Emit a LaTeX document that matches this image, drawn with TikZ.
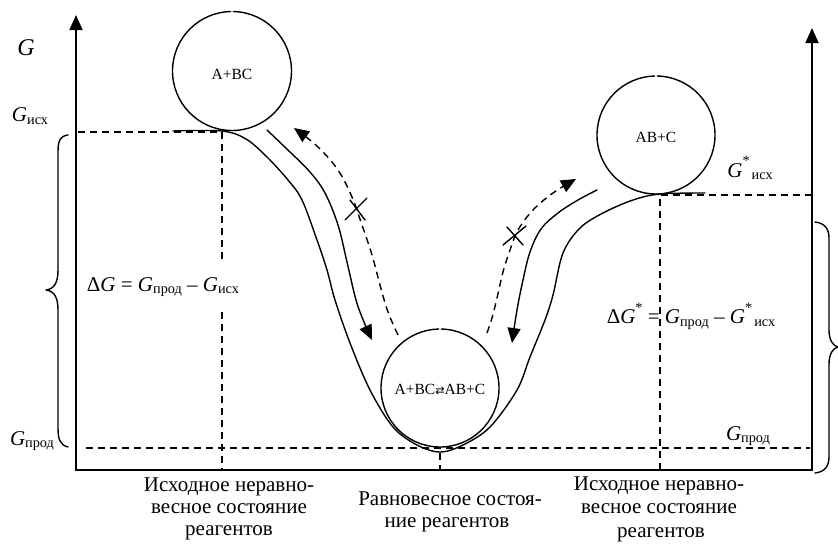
\documentclass[tikz,border=0pt]{standalone}
\usepackage{fontspec}
\setmainfont{Liberation Serif}
\newfontfamily\arrfont{DejaVu Sans}
\usetikzlibrary{arrows.meta,calc}

% lowered subscript and raised superscript set in text mode
\newcommand\lowsub[1]{\raisebox{-0.12em}{\scalebox{0.68}{#1}}}
\newcommand\hisup[1]{\raisebox{0.55em}{\scalebox{0.68}{#1}}}
\newcommand\eqarrow{{\arrfont\scalebox{0.72}{⇄}}}

\begin{document}
\begin{tikzpicture}[x=1pt,y=-1pt,
  curve/.style={line width=1.4pt, line cap=round, line join=round},
  guide/.style={line width=1.4pt, dash pattern=on 7pt off 5pt},
  axisline/.style={line width=1.8pt, line join=miter},
  tipend/.style={-{Triangle[length=15pt,width=13pt]}},
  big/.style={font=\fontsize{21}{23}\selectfont, inner sep=0pt},
  small/.style={font=\fontsize{15.5}{18}\selectfont, inner sep=0pt},
  ]
\useasboundingbox (0,0) rectangle (838,544);

% axes
\coordinate (Ytop) at (76,15);
\coordinate (O) at (76,470);
\coordinate (Xend) at (812,470);
\coordinate (Y2top) at (812,28);
\draw[axisline, {Triangle[length=15pt,width=13pt]}-{Triangle[length=15pt,width=13pt]}]
  (Ytop) -- (O) -- (Xend) -- (Y2top);

% level guides
\coordinate (Gi0) at (78,132);
\coordinate (Gi1) at (222,132);
\coordinate (Gi2) at (222,470);
\coordinate (Gs0) at (660,195);
\coordinate (Gs1) at (812,195);
\coordinate (Gs2) at (660,470);
\coordinate (Gp0) at (86,448);
\coordinate (Gp1) at (810,448);
\coordinate (Eq0) at (440,453);
\coordinate (Eq1) at (440,470);
\draw[guide] (Gi0) -- (Gi1) -- (Gi2);
\draw[guide] (Gs1) -- (Gs0) -- (Gs2);
\draw[guide] (Gp0) -- (Gp1);
\draw[guide] (Eq0) -- (Eq1);

% energy profile
\draw[curve] plot[smooth, tension=0.55] coordinates {
  (173,131) (222,131) (246,139) (267,157) (288,180) (302,200) (317,240)
  (327,270) (335,300) (350,343) (370,390) (393,427) (417,445) (440,452)
  (463,445) (490,427) (517,390) (530,357) (545,320) (553,295) (563,253)
  (580,228) (603,213) (633,200) (660,194) (705,193)};

% states
\coordinate (cA) at (232,71);
\coordinate (cB) at (656,135);
\coordinate (cE) at (440,388);
\draw[curve] (cA) ++(271.3:59.5) arc[start angle=271.3, end angle=628.7, radius=59.5];
\draw[curve] (cB) ++(271.3:59) arc[start angle=271.3, end angle=628.7, radius=59];
\draw[curve] (cE) ++(271.3:59) arc[start angle=271.3, end angle=628.7, radius=59];
\node[small] (tA) at ($(cA)+(0,3)$) {A+BC};
\node[small] (tB) at ($(cB)+(0,2)$) {AB+C};
\node[small] (tE) at ($(cE)+(0,2)$) {A+BC\eqarrow AB+C};

% spontaneous paths
\draw[curve, tipend] plot[smooth, tension=0.6] coordinates {
  (267,130) (290,152) (310,172) (325,193) (338,225) (347,262) (356,300) (364,322) (372,340)};
\draw[curve, tipend] plot[smooth, tension=0.6] coordinates {
  (597,190) (578,200) (558,213) (541,229) (530,252) (523,280) (517,310) (512,343)};

% forbidden reverse paths
\draw[guide, tipend] plot[smooth, tension=0.6] coordinates {
  (398,335) (388,312) (380,285) (372,255) (362,225) (352,197) (338,170) (318,147) (294,128)};
\draw[guide, tipend] plot[smooth, tension=0.6] coordinates {
  (487,333) (492,318) (497,298) (503,272) (510,250) (518,230) (533,210) (553,193) (576,179)};
\draw[curve] (345,220) -- (367,198) (350,200) -- (365,220);
\draw[curve] (503,245) -- (526,226) (507,227) -- (523,245);

% braces
\draw[curve] (68,135) .. controls (60,136) and (58,141) .. (58,152) -- (58,270)
  .. controls (58,283) and (54,289) .. (46,290) .. controls (54,291) and (58,297) .. (58,310)
  -- (58,428) .. controls (58,439) and (60,445) .. (68,447);
\draw[curve] (815,222) .. controls (824,223) and (829,228) .. (829,238) -- (829,330)
  .. controls (829,340) and (833,346) .. (838,347) .. controls (833,348) and (829,354) .. (829,364)
  -- (829,457) .. controls (829,467) and (824,472) .. (815,473);

% axis and level labels
\node[big, font=\fontsize{24}{26}\selectfont] (lG) at (26,48) {\textit{G}};
\node[big] (lGi) at (30,116) {\textit{G}\lowsub{исх}};
\node[big] (lGpl) at (32,441) {\textit{G}\lowsub{прод}};
\node[big] (lGpr) at (748,436) {\textit{G}\lowsub{прод}};
\node[big] (lGs) at (750,168) {\textit{G}\hisup{*}\hspace{0.1em}\lowsub{исх}};

% free energy change
\node[big, fill=white, inner xsep=0pt, inner ysep=14pt] (dG) at (163,287)
  {Δ\textit{G} = \textit{G}\lowsub{прод} – \textit{G}\lowsub{исх}};
\node[big] (dGs) at (691,316)
  {Δ\textit{G}\hisup{*} = \textit{G}\lowsub{прод} – \textit{G}\hisup{*}\hspace{0.1em}\lowsub{исх}};

% state captions
\node[big, anchor=base] (s1a) at (229,491) {Исходное неравно-};
\node[big, anchor=base] (s1b) at (229,513) {весное состояние};
\node[big, anchor=base] (s1c) at (229,535) {реагентов};
\node[big, anchor=base] (s2a) at (450,505) {Равновесное состоя-};
\node[big, anchor=base] (s2b) at (447,527) {ние реагентов};
\node[big, anchor=base] (s3a) at (659,490) {Исходное неравно-};
\node[big, anchor=base] (s3b) at (659,513) {весное состояние};
\node[big, anchor=base] (s3c) at (661,537) {реагентов};
\end{tikzpicture}
\end{document}
